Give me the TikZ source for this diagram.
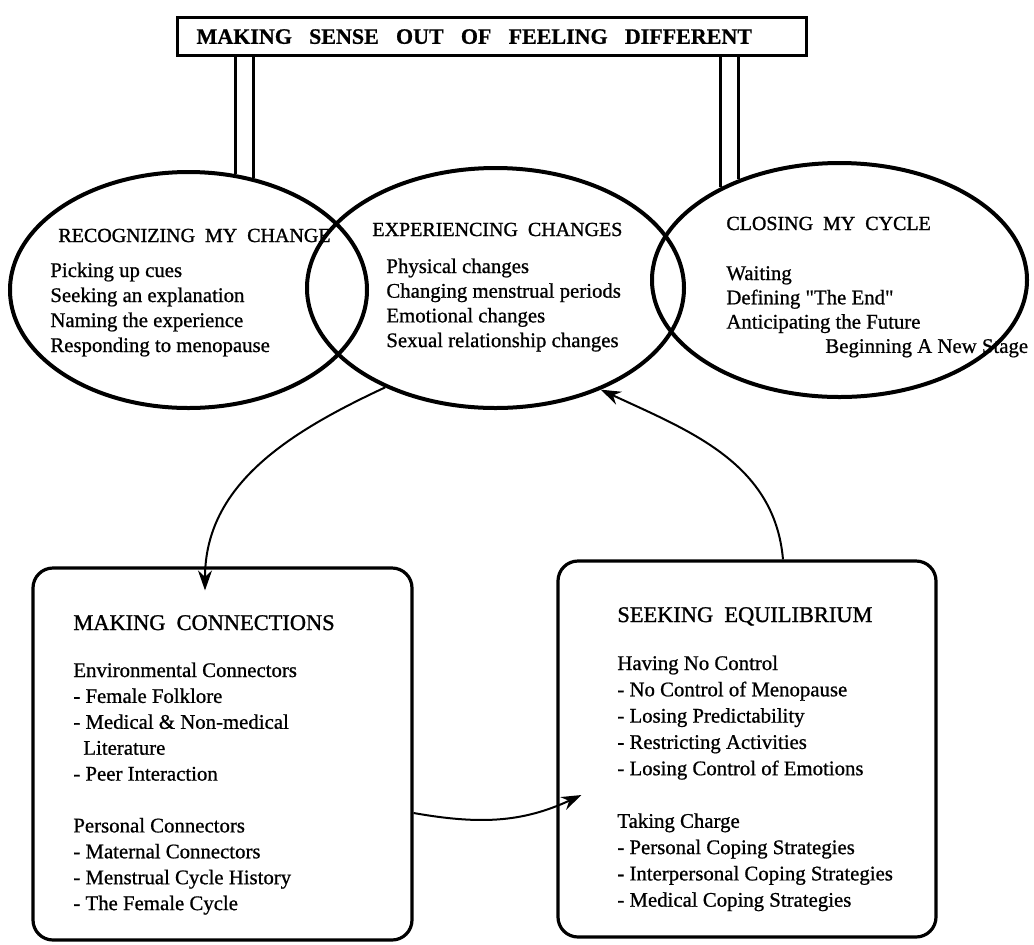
\documentclass[tikz,border=0pt]{standalone}
\usepackage{fontspec}
\setmainfont{Liberation Serif}[FakeBold=0.8]
\newfontfamily\capsfont{Liberation Serif}[WordSpace=2,FakeBold=1.2]
\usepackage{tikz}
\usetikzlibrary{calc}
\usetikzlibrary{arrows.meta,shapes.geometric}
\usetikzlibrary{matrix,positioning}
\newcommand{\itemsize}{\fontsize{10.4}{12.5}\selectfont}
\newcommand{\ovalhead}{\capsfont\fontsize{10}{12}\selectfont}
\newcommand{\boxhead}{\capsfont\fontsize{11.2}{13}\selectfont}
\newcommand{\signhead}{\bfseries\fontsize{11}{13}\selectfont}

\begin{document}
\begin{tikzpicture}[x=0.5pt,y=0.5pt,
    oval/.style={draw,ellipse,line width=2pt,inner sep=0pt},
    panel/.style={draw,rectangle,rounded corners=10pt,line width=1.6pt,inner sep=0pt},
    pillar/.style={line width=1.5pt},
    link/.style={line width=1pt,-{Stealth[length=10pt,width=7pt]}},
    textcol/.style={matrix of nodes,nodes in empty cells,inner sep=0pt,
      column 1/.style={anchor=base west},nodes={inner sep=0pt,font=\itemsize}}]
  \useasboundingbox (0,0) rectangle (1034,-944);
  % sign on top
  \node[draw,line width=1.6pt,anchor=north west,minimum height=19pt,
    text width=295.5pt,inner xsep=9.5pt,inner ysep=0pt,align=left,font=\signhead]
    (sign) at (176,-16) {\spaceskip=8.6pt MAKING SENSE OUT OF FEELING DIFFERENT};
  % the three phases
  \node[oval,minimum width=178.5pt,minimum height=118pt] (rec) at (188.5,-290) {};
  \node[oval,minimum width=188.5pt,minimum height=120pt] (exp) at (495.5,-288) {};
  \node[oval,minimum width=187.5pt,minimum height=117pt] (clo) at (839.5,-280) {};
  % posts of the sign
  \draw[pillar] (rec.68 |- sign.south) -- (rec.68);
  \draw[pillar] (rec.60 |- sign.south) -- (rec.60);
  \draw[pillar] (clo.142 |- sign.south) -- (clo.142);
  \draw[pillar] (clo.135 |- sign.south) -- (clo.135);
  \matrix (recm) [textcol,row sep={12.5pt,between origins},
    matrix anchor=recm-2-1.base west,row 1/.style={nodes={font=\ovalhead}}]
    at (50,-277) {
    \hspace*{4pt}RECOGNIZING MY CHANGE \\[5pt]
    Picking up cues \\
    Seeking an explanation \\
    Naming the experience \\
    Responding to menopause \\
  };
  \matrix (expm) [textcol,row sep={12.35pt,between origins},
    matrix anchor=expm-2-1.base west,row 1/.style={nodes={font=\ovalhead}}]
    at (386,-273) {
    \hspace*{-7pt}EXPERIENCING CHANGES \\[6.15pt]
    Physical changes \\
    Changing menstrual periods \\
    Emotional changes \\
    Sexual relationship changes \\
  };
  \matrix (clom) [textcol,row sep={12.15pt,between origins},
    matrix anchor=clom-2-1.base west,row 1/.style={nodes={font=\ovalhead}}]
    at (726,-280) {
    CLOSING MY CYCLE \\[12.85pt]
    Waiting \\
    Defining \textquotedbl The End\textquotedbl \\
    Anticipating the Future \\
    \hspace*{49.5pt}Beginning A New Stage \\
  };
  % the two lower boxes
  \node[panel,minimum width=189.5pt,minimum height=186pt] (mc) at (222.5,-754) {};
  \node[panel,minimum width=189pt,minimum height=188pt] (se) at (747,-749) {};
  \matrix (mcm) [textcol,row sep={12.95pt,between origins},
    matrix anchor=mcm-2-1.base west,row 1/.style={nodes={font=\boxhead}}]
    at (73,-677) {
    MAKING CONNECTIONS \\[10.55pt]
    Environmental Connectors \\
    - Female Folklore \\
    - Medical \& Non-medical \\
    \hspace*{5pt}Literature \\
    - Peer Interaction \\
    \\
    Personal Connectors \\
    - Maternal Connectors \\
    - Menstrual Cycle History \\
    - The Female Cycle \\
  };
  \matrix (sem) [textcol,row sep={13.15pt,between origins},
    matrix anchor=sem-2-1.base west,row 1/.style={nodes={font=\boxhead}}]
    at (617,-670) {
    SEEKING EQUILIBRIUM \\[10.85pt]
    Having No Control \\
    - No Control of Menopause \\
    - Losing Predictability \\
    - Restricting Activities \\
    - Losing Control of Emotions \\
    \\
    Taking Charge \\
    - Personal Coping Strategies \\
    - Interpersonal Coping Strategies \\
    - Medical Coping Strategies \\
  };
  % connectors
  \coordinate (mcin) at ([xshift=-8.75pt,yshift=-12pt]mc.north);
  \coordinate (sein) at ([xshift=12.5pt,yshift=-23pt]se.west);
  \draw[link] (exp.222) to[out=205,in=90] (mcin);
  \draw[link] ([xshift=18pt]se.north) to[out=95,in=-25] (exp.316);
  \draw[link] ([yshift=-29.5pt]mc.east) to[out=-10,in=205] (sein);
\end{tikzpicture}
\end{document}
